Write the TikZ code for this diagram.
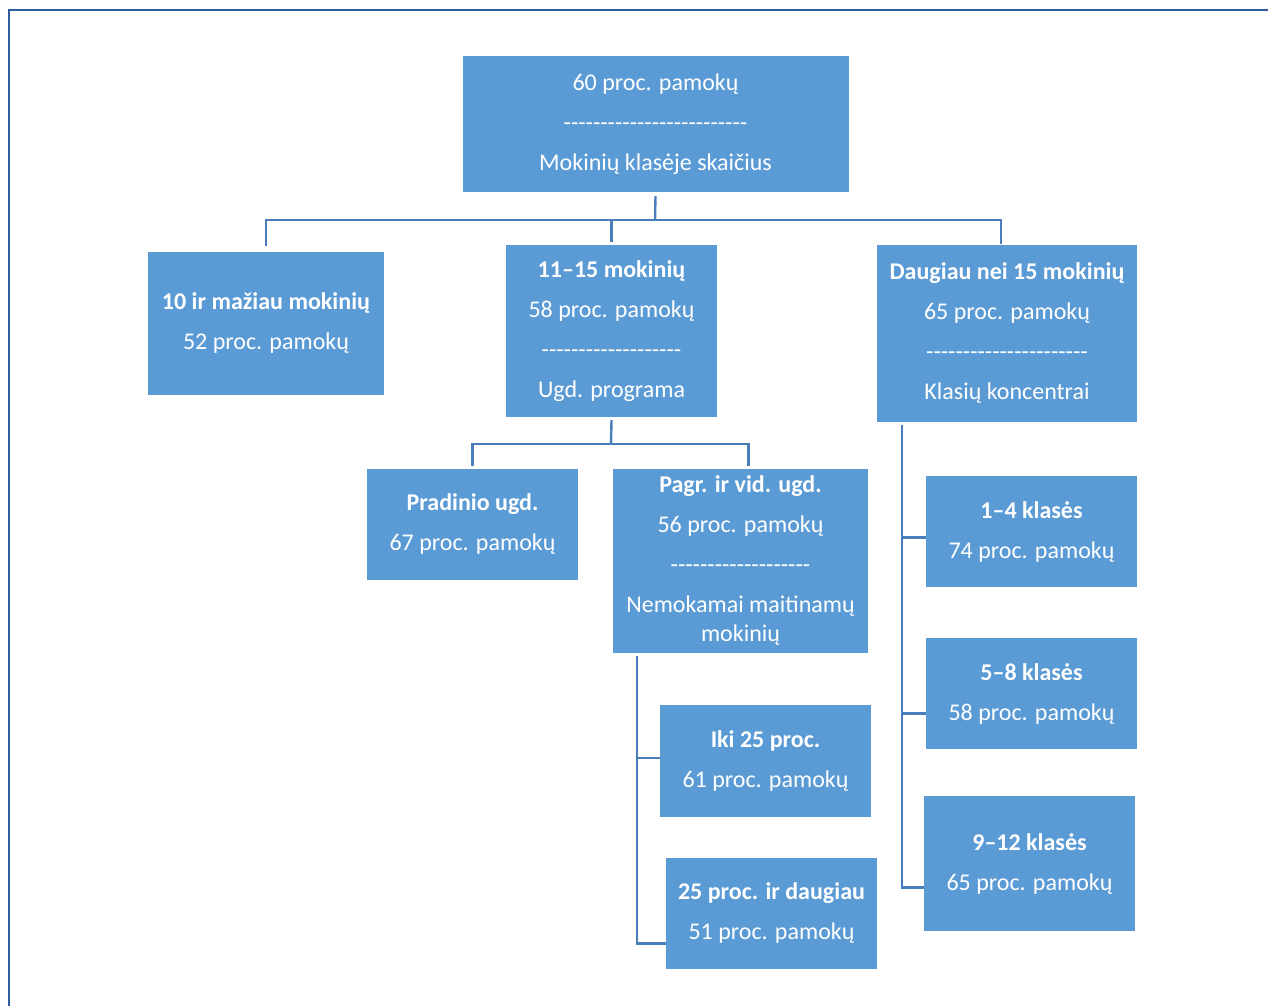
\documentclass[tikz,border=0pt]{standalone}
\usepackage{fontspec}
\setmainfont{Carlito}
\usetikzlibrary{positioning}
\definecolor{boxblue}{HTML}{5B9BD5}
\definecolor{linkblue}{HTML}{4A7EBB}
\definecolor{framecol}{HTML}{2E5C9E}
\newcommand\dashrow[1]{\foreach\k in {1,...,#1}{\mbox{-}}}

\begin{document}
\begin{tikzpicture}[
        x=1pt, y=-1pt,
        every node/.style={font=\fontsize{24}{29}\selectfont},
        box/.style={fill=boxblue, text=white, align=center, inner sep=0pt},
        link/.style={draw=linkblue, line width=2.4pt}
    ]
    \useasboundingbox (0,0) rectangle (1268,1006);
    \draw[framecol, line width=2pt] (8.5,1006) -- (8.5,10.5) -- (1268,10.5);

    \node[box, minimum width=386pt, minimum height=136pt] (root) at (655.5,124)
        {60 proc. pamokų\\[11pt] \dashrow{25}\\[11pt] Mokinių klasėje skaičius};

    \node[box, minimum width=236pt, minimum height=143pt] (small) at (266,323.5)
        {\textbf{10 ir mažiau mokinių}\\[11pt] 52 proc. pamokų};
    \node[box, minimum width=211pt, minimum height=172pt] (mid) at (611.5,331)
        {\textbf{11–15 mokinių}\\[11pt] 58 proc. pamokų\\[11pt] \dashrow{19}\\[11pt] Ugd. programa};
    \node[box, minimum width=260pt, minimum height=177pt] (many) at (1007,333.5)
        {\textbf{Daugiau nei 15 mokinių}\\[11pt] 65 proc. pamokų\\[11pt] \dashrow{22}\\[11pt] Klasių koncentrai};

    \node[box, minimum width=211pt, minimum height=111pt] (prim) at (472.5,524.5)
        {\textbf{Pradinio ugd.}\\[11pt] 67 proc. pamokų};
    \node[box, minimum width=255pt, minimum height=184pt] (pagr) at (740.5,561)
        {\textbf{Pagr. ir vid. ugd.}\\[11pt] 56 proc. pamokų\\[11pt] \dashrow{19}\\[11pt] Nemokamai maitinamų\\ mokinių};

    \node[box, minimum width=211pt, minimum height=112pt] (iki) at (765.5,761)
        {\textbf{Iki 25 proc.}\\[11pt] 61 proc. pamokų};
    \node[box, minimum width=211pt, minimum height=111pt] (more) at (771.5,913.5)
        {\textbf{25 proc. ir daugiau}\\[11pt] 51 proc. pamokų};

    \node[box, minimum width=211pt, minimum height=111pt] (k14) at (1031.5,531.5)
        {\textbf{1–4 klasės}\\[11pt] 74 proc. pamokų};
    \node[box, minimum width=211pt, minimum height=111pt] (k58) at (1031.5,693.5)
        {\textbf{5–8 klasės}\\[11pt] 58 proc. pamokų};
    \node[box, minimum width=211pt, minimum height=135pt] (k912) at (1029.5,863.5)
        {\textbf{9–12 klasės}\\[11pt] 65 proc. pamokų};

    % first level
    \coordinate (hub1) at (655,220);
    \draw[link] ([yshift=-4pt]root.south) -- (hub1);
    \draw[link] ([yshift=6pt]small.north) |- (hub1) -| ([xshift=-6pt,yshift=1pt]many.north);
    \draw[link] (hub1 -| mid.north) -- ([yshift=3pt]mid.north);

    % second level
    \coordinate (hub2) at (611,444);
    \draw[link] ([yshift=-3pt]mid.south) -- (hub2);
    \draw[link] ([yshift=3pt]prim.north) |- (hub2) -| ([xshift=8pt,yshift=3pt]pagr.north);

    % meals rail
    \coordinate (railA) at ([xshift=24pt,yshift=-3pt]pagr.south west);
    \coordinate (inIki) at ([yshift=3pt]iki.west);
    \draw[link] (railA) |- ([yshift=-30pt]more.west);
    \draw[link] (railA |- inIki) -- (inIki);

    % grades rail
    \coordinate (railB) at ([xshift=25pt,yshift=-3pt]many.south west);
    \coordinate (in14) at ([yshift=-6pt]k14.west);
    \coordinate (in58) at ([yshift=-20pt]k58.west);
    \draw[link] (railB) |- ([yshift=-24pt]k912.west);
    \draw[link] (railB |- in14) -- (in14);
    \draw[link] (railB |- in58) -- (in58);

\end{tikzpicture}
\end{document}
